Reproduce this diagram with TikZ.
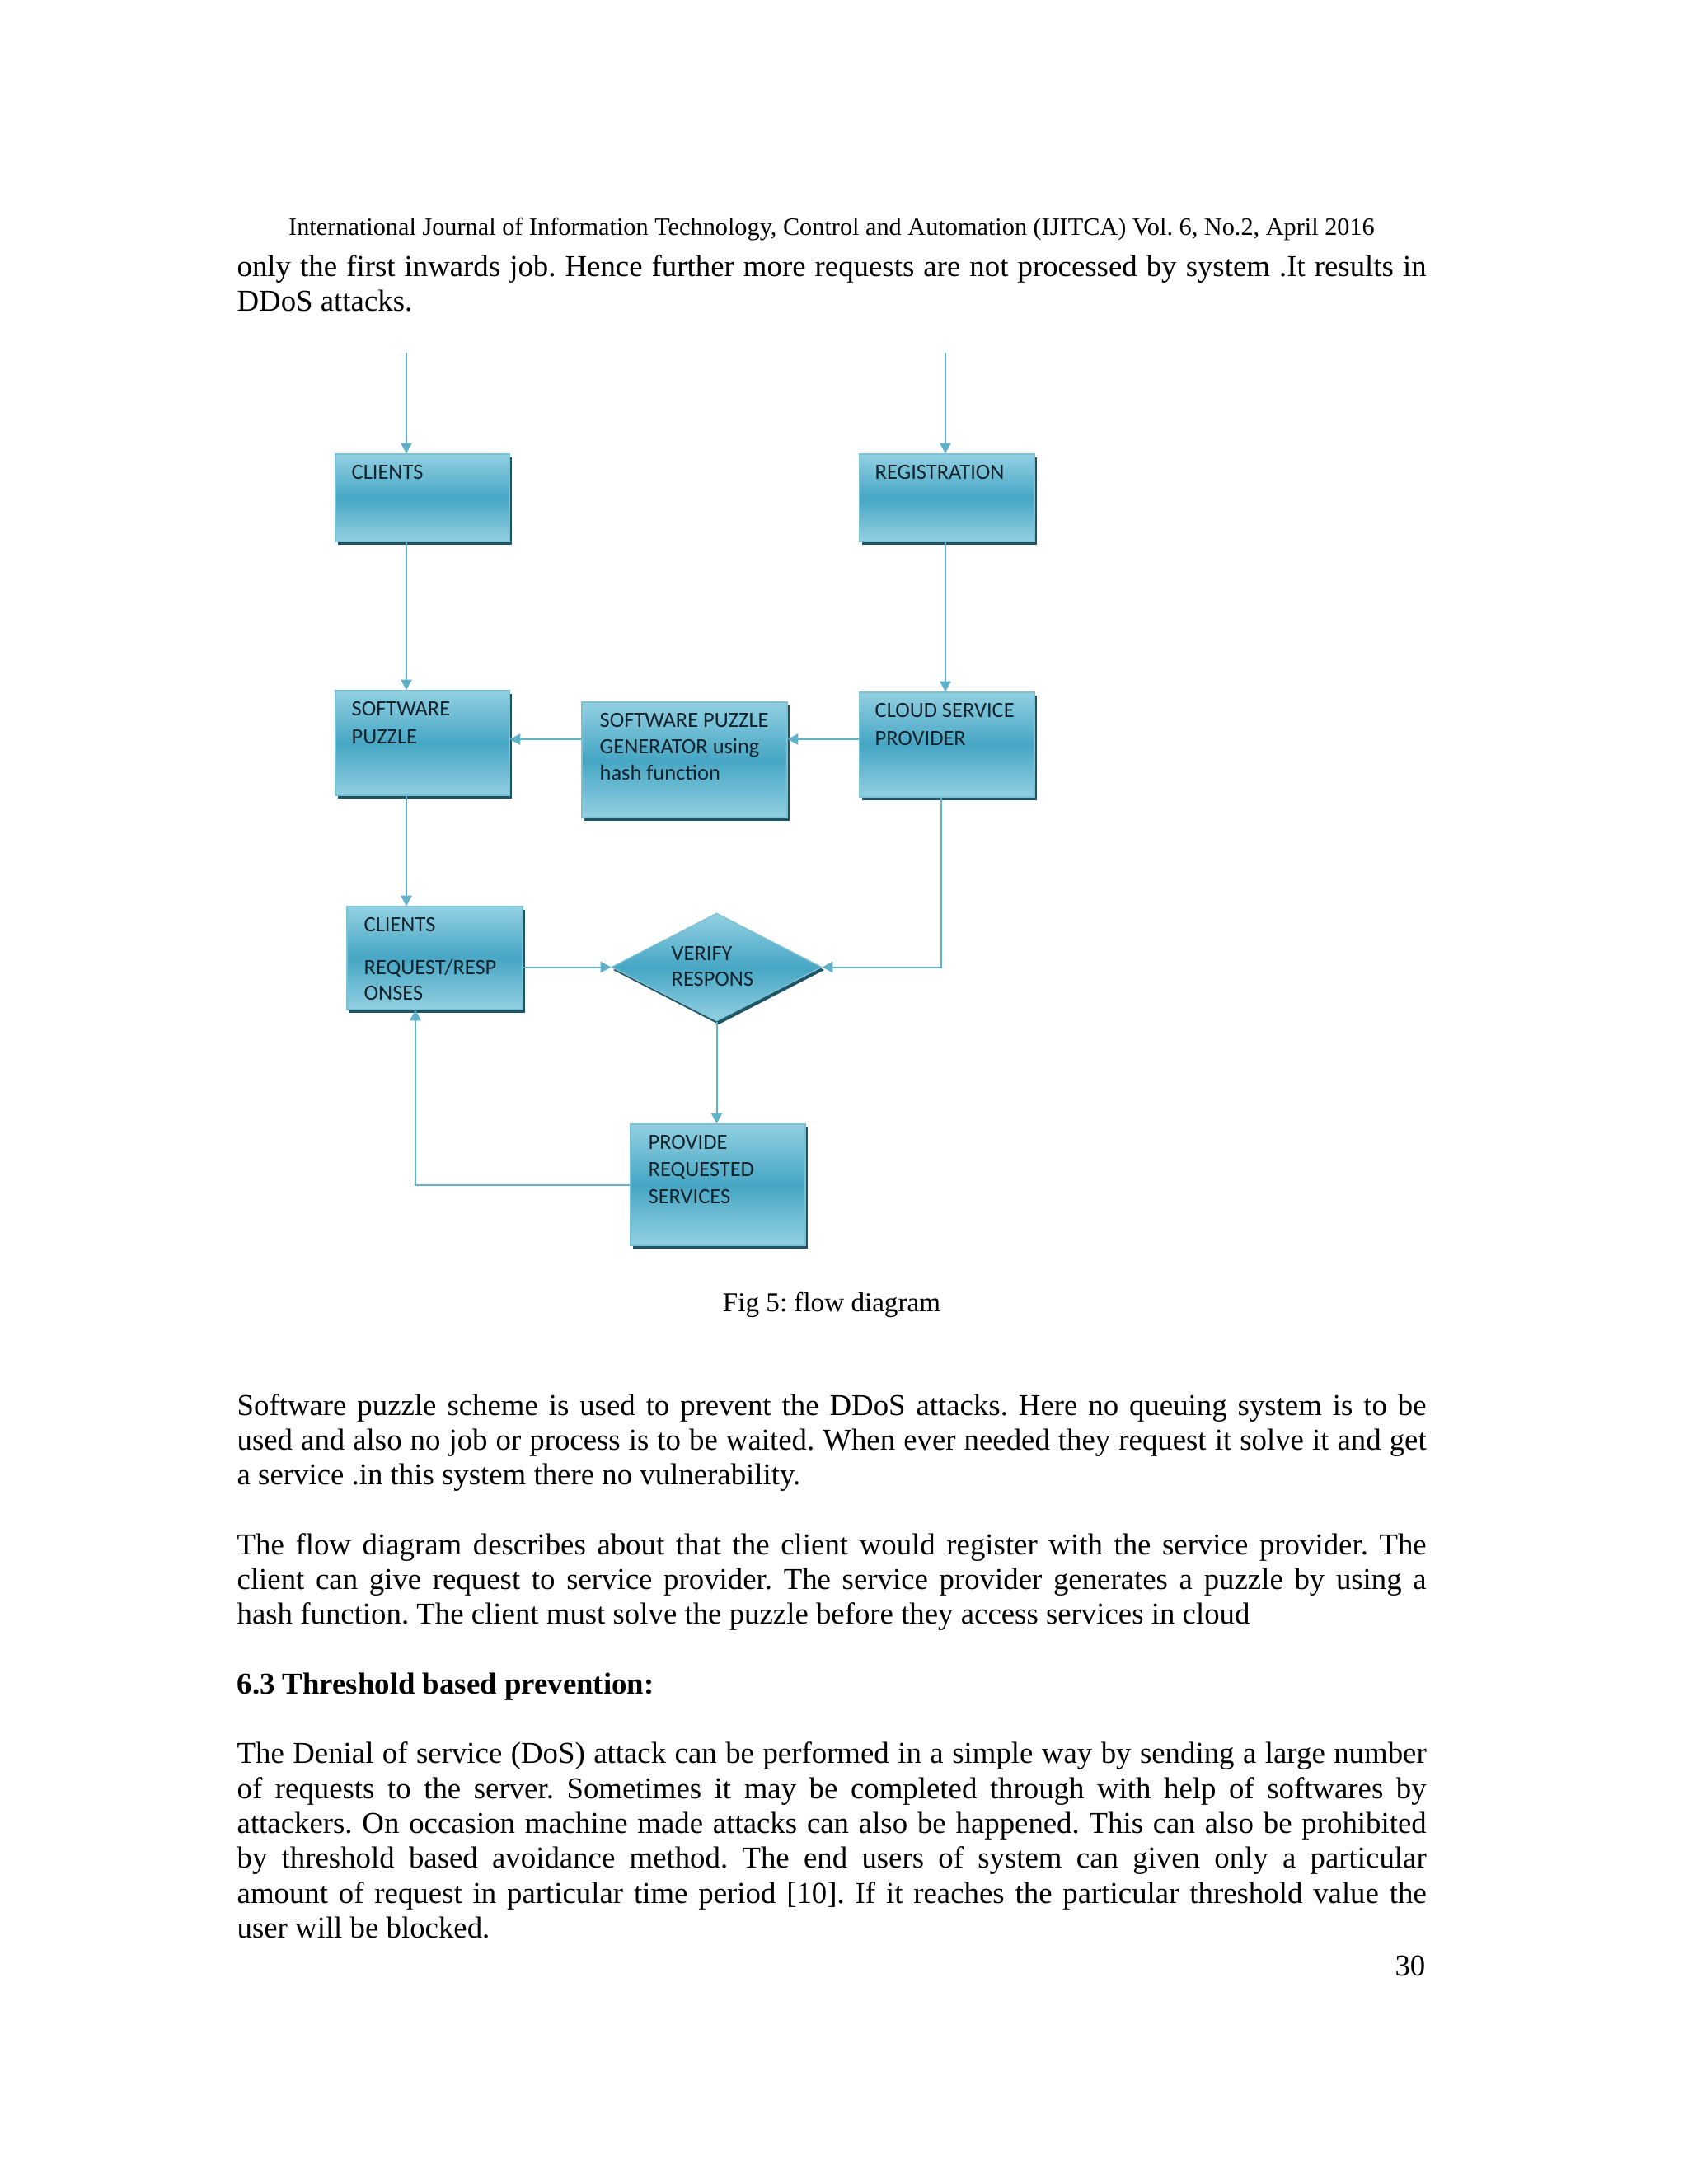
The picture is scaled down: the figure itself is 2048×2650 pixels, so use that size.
\documentclass[tikz,border=0pt]{standalone}
\usepackage{fontspec}
\setmainfont{Liberation Serif}
\newfontfamily\boxfont{Carlito}
\usetikzlibrary{shapes.geometric,arrows.meta,calc}
\definecolor{arr}{HTML}{5FB0C9}
\definecolor{boxlt}{HTML}{92D0E2}
\definecolor{boxmid}{HTML}{46A6C4}
\definecolor{boxshadow}{HTML}{1E5566}
\definecolor{boxedge}{HTML}{7CC0D4}
\definecolor{boxtext}{HTML}{14232B}
\newlength\tw \setlength\tw{431.2pt}
\frenchspacing
\newcommand\flowrect[5]{%
  \fill[boxshadow] (#2+3,#3+4) rectangle (#4+3,#5+4);
  \node[flowbox, minimum width={(#4-#2)*0.29883pt}, minimum height={(#5-#3)*0.29883pt}] (#1) at ({(#2+#4)/2},{(#3+#5)/2}) {};
}
\newcommand\justline[3]{\node[bodytext] (#1) at (287,#2) {\makebox[\tw][s]{#3}};}
\newcommand\plainline[3]{\node[bodytext] (#1) at (287,#2) {#3};}
\newcommand\boxtxt[4]{\node[boxlabel] (#1) at (#2,#3) {#4};}
\begin{document}
\begin{tikzpicture}[x=0.29883pt,y=-0.29883pt,
  flowbox/.style={rectangle, draw=boxedge, line width=0.4pt, top color=boxlt, bottom color=boxlt, middle color=boxmid, inner sep=0pt},
  bodytext/.style={anchor=base west, inner sep=0pt, font=\fontsize{11}{13}\selectfont\frenchspacing},
  boxlabel/.style={anchor=base west, inner sep=0pt, text=boxtext, font=\boxfont\fontsize{7.9}{9}\selectfont},
  conn/.style={draw=arr, line width=0.6pt, -{Triangle[length=3.8pt,width=4pt]}},
  plain/.style={draw=arr, line width=0.6pt}]
\useasboundingbox (0,0) rectangle (2048,2650);
\fill[white] (0,0) rectangle (2048,2650);

% header and text
\node[anchor=base, inner sep=0pt, font=\fontsize{9.05}{11}\selectfont] (hdr) at (1009,285) {International Journal of Information Technology, Control and Automation (IJITCA) Vol. 6, No.2, April 2016};
\justline{t1}{335}{only the first inwards job. Hence further more requests are not processed by system .It results in}
\plainline{t2}{377}{DDoS attacks.}

% boxes
\flowrect{cl}{407}{551}{618}{657}
\flowrect{reg}{1043}{551}{1255}{657}
\flowrect{sp}{407}{838}{618}{965}
\flowrect{spg}{706}{852}{955}{992}
\flowrect{csp}{1043}{840}{1255}{967}
\flowrect{crq}{421}{1100}{634}{1225}
\flowrect{prv}{765}{1364}{977}{1511}
\fill[boxshadow] (744,1177) -- (872,1112) -- (1000,1177) -- (872,1243) -- cycle;
\node[diamond, aspect=1.95, draw=boxedge, line width=0.4pt, top color=boxlt, bottom color=boxlt, middle color=boxmid, inner sep=0pt, minimum width={255*0.29883pt}, minimum height={131*0.29883pt}] (dia) at (869.5,1173.5) {};

% box texts
\boxtxt{cla}{426}{581}{CLIENTS}
\boxtxt{rega}{1061}{581}{REGISTRATION}
\boxtxt{spa}{426}{868}{SOFTWARE}
\boxtxt{spb}{426}{902}{PUZZLE}
\boxtxt{spga}{727}{882}{SOFTWARE PUZZLE}
\boxtxt{spgb}{727}{914}{GENERATOR using}
\boxtxt{spgc}{727}{946}{hash function}
\boxtxt{cspa}{1061}{870}{CLOUD SERVICE}
\boxtxt{cspb}{1061}{904}{PROVIDER}
\boxtxt{crqa}{441}{1130}{CLIENTS}
\boxtxt{crqb}{441}{1182}{REQUEST/RESP}
\boxtxt{crqc}{441}{1213}{ONSES}
\boxtxt{diaa}{814}{1165}{VERIFY}
\boxtxt{diab}{814}{1196}{RESPONS}
\boxtxt{prva}{786}{1394}{PROVIDE}
\boxtxt{prvb}{786}{1427}{REQUESTED}
\boxtxt{prvc}{786}{1460}{SERVICES}

% connectors
\coordinate (in1) at (493,428);
\coordinate (in2) at (1147,428);
\coordinate (loop) at (504,1438);
\coordinate (cspdown) at (1142,1173.5);
\draw[conn] (in1) -- (in1 |- cl.north);
\draw[conn] (in2) -- (in2 |- reg.north);
\draw[conn] (cl.south -| in1) -- (sp.north -| in1);
\draw[conn] (reg.south -| in2) -- (csp.north -| in2);
\draw[conn] (csp.west |- 0,897) -- (spg.east |- 0,897);
\draw[conn] (spg.west |- 0,897) -- (sp.east |- 0,897);
\draw[conn] (sp.south -| in1) -- (crq.north -| in1);
\draw[conn] (crq.east |- dia.west) -- (dia.west);
\draw[conn] (csp.south -| cspdown) -- (cspdown) -- (dia.east);
\draw[conn] (dia.south) -- (prv.north -| dia.south);
\draw[conn] (prv.west |- loop) -- (loop) -- (crq.south -| loop);

% caption and text
\node[anchor=base, inner sep=0pt, font=\fontsize{9.9}{12}\selectfont] (cap) at (1009,1591) {Fig 5: flow diagram};
\justline{p1}{1717}{Software puzzle scheme is used to prevent the DDoS attacks. Here no queuing system is to be}
\justline{p2}{1759}{used and also no job or process is to be waited. When ever needed they request it solve it and get}
\plainline{p3}{1801}{a service .in this system there no vulnerability.}
\justline{q1}{1886}{The flow diagram describes about that the client would register with the service provider. The}
\justline{q2}{1928}{client can give request to service provider. The service provider generates a puzzle by using a}
\plainline{q3}{1970}{hash function. The client must solve the puzzle before they access services in cloud}
\plainline{h63}{2055}{\bfseries 6.3 Threshold based prevention:}
\justline{r1}{2139}{The Denial of service (DoS) attack can be performed in a simple way by sending a large number}
\justline{r2}{2182}{of requests to the server. Sometimes it may be completed through with help of softwares by}
\justline{r3}{2224}{attackers. On occasion machine made attacks can also be happened. This can also be prohibited}
\justline{r4}{2266}{by threshold based avoidance method. The end users of system can given only a particular}
\justline{r5}{2309}{amount of request in particular time period [10]. If it reaches the particular threshold value the}
\plainline{r6}{2351}{user will be blocked.}
\node[anchor=base east, inner sep=0pt, font=\fontsize{11}{13}\selectfont] (pg) at (1730,2397) {30};
\end{tikzpicture}
\end{document}
